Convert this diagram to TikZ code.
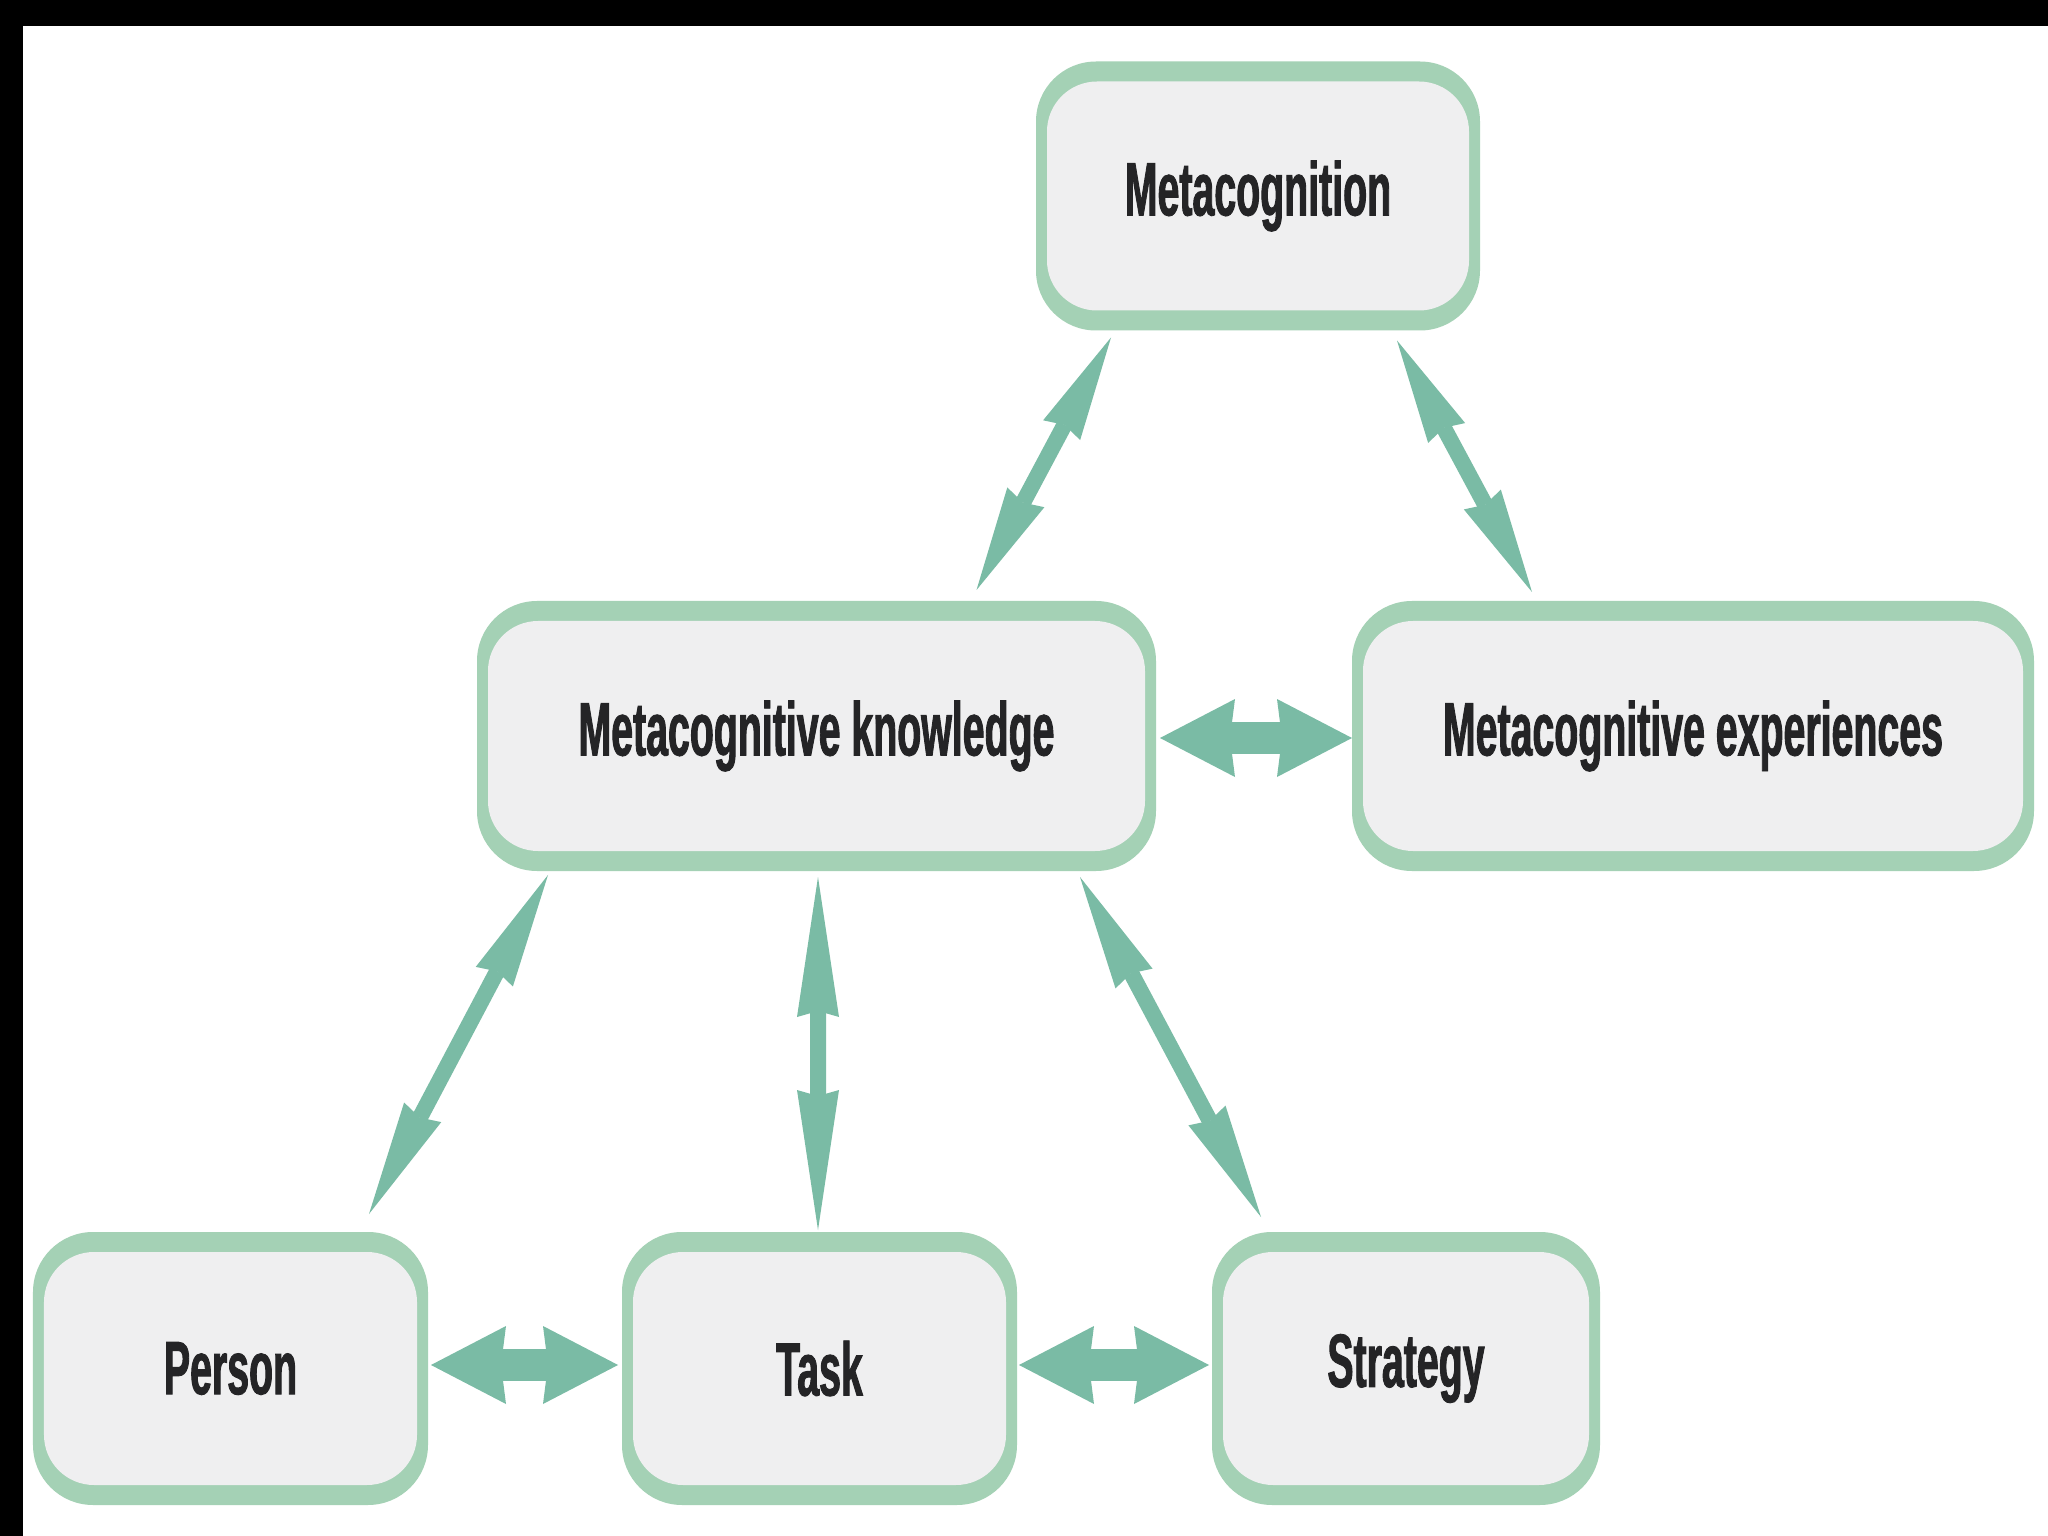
\documentclass[tikz,border=0pt]{standalone}
\usepackage{fontspec}
\newfontfamily\labelfont[FakeStretch=0.52, FakeBold=1.2]{Liberation Sans}
\usepackage{tikz}
\usetikzlibrary{arrows.meta, positioning}
\definecolor{boxline}{RGB}{164, 209, 181}
\definecolor{boxfill}{RGB}{239, 239, 240}
\definecolor{arrowgreen}{RGB}{122, 187, 165}
\definecolor{labeltext}{RGB}{36, 36, 38}

\begin{document}
\begin{tikzpicture}[
    box/.style={fill=boxline, rounded corners=0.6cm, minimum height=2.7cm, inner sep=0pt, outer sep=0pt, text=labeltext, font=\labelfont\bfseries\fontsize{21.5pt}{24pt}\selectfont,
        path picture={\fill[boxfill, rounded corners=0.5cm] ([xshift=0.11cm, yshift=0.2cm]path picture bounding box.south west) rectangle ([xshift=-0.11cm, yshift=-0.2cm]path picture bounding box.north east);}},
    link/.style={draw=arrowgreen, line width=0.16cm, {Stealth[length=#1, width=0.42cm, inset=0.06cm, line width=0pt]}-{Stealth[length=#1, width=0.42cm, inset=0.06cm, line width=0pt]}},
    link/.default=1.1cm,
    widelink/.style={draw=arrowgreen, line width=0.32cm, {Stealth[length=0.75cm, width=0.78cm, inset=0.05cm, line width=0pt]}-{Stealth[length=0.75cm, width=0.78cm, inset=0.05cm, line width=0pt]}}
]

% Page and dark frame edges
\useasboundingbox (0, 0) rectangle (20.48, -15.36);
\fill[white] (0, 0) rectangle (20.48, -15.36);
\fill[black] (0, 0) rectangle (20.48, -0.26);
\fill[black] (0, 0) rectangle (0.23, -15.36);

% Top
\node[box, minimum width=4.44cm, minimum height=2.69cm] (meta) at (12.58, -1.96) {Metacognition};

% Middle row
\node[box, minimum width=6.79cm] (know) at (8.165, -7.36) {Metacognitive knowledge};
\node[box, minimum width=6.82cm] (exper) at (16.93, -7.36) {Metacognitive experiences};

% Bottom row
\node[box, minimum width=3.95cm, minimum height=2.73cm] (person) at (2.305, -13.685) {Person};
\node[box, minimum width=3.95cm, minimum height=2.73cm] (task) at (8.195, -13.685) {Task};
\node[box, minimum width=3.88cm, minimum height=2.73cm] (strategy) at (14.06, -13.685) {Strategy};

% Connecting Arrows
\draw[link=1.05cm] ([xshift=-1.47cm, yshift=-0.07cm]meta.south) -- ([xshift=1.6cm, yshift=0.11cm]know.north);
\draw[link=1.05cm] ([xshift=1.39cm, yshift=-0.1cm]meta.south) -- ([xshift=-1.61cm, yshift=0.09cm]exper.north);
\draw[widelink] ([xshift=0.04cm, yshift=-0.02cm]know.east) -- ([yshift=-0.02cm]exper.west);
\draw[link=1.15cm] ([xshift=-2.685cm, yshift=-0.04cm]know.south) -- ([xshift=1.385cm, yshift=0.18cm]person.north);
\draw[link=1.4cm] ([xshift=0.015cm, yshift=-0.06cm]know.south) -- ([xshift=-0.015cm, yshift=0.02cm]task.north);
\draw[link=1.15cm] ([xshift=2.635cm, yshift=-0.06cm]know.south) -- ([xshift=-1.45cm, yshift=0.15cm]strategy.north);
\draw[widelink] ([xshift=0.03cm, yshift=0.035cm]person.east) -- ([xshift=-0.04cm, yshift=0.035cm]task.west);
\draw[widelink] ([xshift=0.02cm, yshift=0.035cm]task.east) -- ([xshift=-0.03cm, yshift=0.035cm]strategy.west);

\end{tikzpicture}
\end{document}
